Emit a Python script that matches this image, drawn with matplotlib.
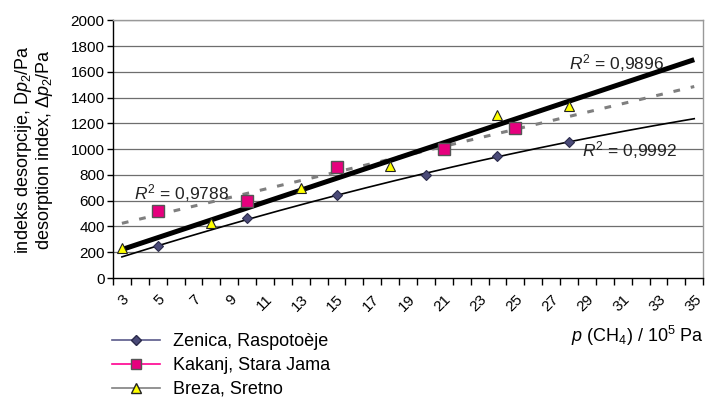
import numpy as np
import matplotlib
matplotlib.use("Agg")
import matplotlib.pyplot as plt
from matplotlib.lines import Line2D

plt.rcParams['font.family'] = ['Liberation Sans', 'DejaVu Sans']
plt.rcParams['mathtext.fontset'] = 'custom'
plt.rcParams['mathtext.rm'] = 'Liberation Sans'
plt.rcParams['mathtext.it'] = 'Liberation Sans:italic'
plt.rcParams['mathtext.bf'] = 'Liberation Sans:bold'

# Measured desorption index vs. methane pressure
zenica_p = [5, 10, 15, 20, 24, 28]
zenica_dp = [245, 463, 643, 801, 948, 1057]

kakanj_p = [5, 10, 15, 21, 25]
kakanj_dp = [519, 597, 863, 1005, 1163]

breza_p = [3, 8, 13, 18, 24, 28]
breza_dp = [235, 429, 695, 871, 1264, 1333]

x_tick_labels = [str(v) for v in range(3, 36, 2)]
y_ticks = list(range(0, 2001, 200))

fig = plt.figure(figsize=(7.06, 4.0), dpi=100)
ax = fig.add_axes([0.160, 0.305, 0.836, 0.644])

ax.set_xlim(2.5, 35.5)
ax.set_ylim(0, 2000)

# horizontal grid
for yv in y_ticks[1:]:
    ax.axhline(yv, color='#6e6e6e', lw=0.9, zorder=0)

# trend lines
xt = np.linspace(3, 35, 200)
cz = np.polyfit(zenica_p, zenica_dp, 2)
ck = np.polyfit(kakanj_p, kakanj_dp, 1)
cb = np.polyfit(breza_p, breza_dp, 1)
ax.plot(xt, np.polyval(ck, xt), color='#7f7f7f', lw=2.2, ls=(0, (2.2, 3.6)), zorder=2)
ax.plot(xt, np.polyval(cz, xt), color='black', lw=1.2, zorder=2)
ax.plot(xt, np.polyval(cb, xt), color='black', lw=3.6, zorder=2, solid_capstyle='butt')

# data markers
ax.plot(zenica_p, zenica_dp, ls='none', marker='D', ms=5.5, mfc='#4a4a78', mec='#2a2a4a', mew=0.8, zorder=4)
ax.plot(kakanj_p, kakanj_dp, ls='none', marker='s', ms=8, mfc='#e6007e', mec='#555555', mew=1.0, zorder=4)
ax.plot(breza_p, breza_dp, ls='none', marker='^', ms=7.5, mfc='#ffff00', mec='#222222', mew=0.8, zorder=4)

# R² annotations
ax.text(3.7, 659, r'$R^2$ = 0,9788', fontsize=12.5, color='#222222', ha='left', va='center')
ax.text(28.0, 1667, r'$R^2$ = 0,9896', fontsize=12.5, color='#222222', ha='left', va='center')
ax.text(28.7, 992, r'$R^2$ = 0,9992', fontsize=12.5, color='#222222', ha='left', va='center')

# axes styling
for side in ('top', 'right'):
    ax.spines[side].set_color('#999999')
    ax.spines[side].set_linewidth(1.0)
for side in ('left', 'bottom'):
    ax.spines[side].set_color('black')
    ax.spines[side].set_linewidth(1.0)

ax.set_yticks(y_ticks)
ax.tick_params(axis='y', direction='out', length=4, width=1, labelsize=11, pad=2)

ax.set_xticks(np.arange(2.5, 35.6, 1.0))
ax.set_xticklabels([])
ax.tick_params(axis='x', which='major', direction='out', length=5, width=1)
ax.set_xticks(list(range(3, 36, 2)), minor=True)
ax.set_xticklabels(x_tick_labels, minor=True, rotation=45, ha='right', va='top',
                   rotation_mode='anchor', fontsize=11)
ax.tick_params(axis='x', which='minor', length=0, pad=10)

ax.set_ylabel('indeks desorpcije, D$\\it{p}_2$/Pa\ndesorption index, $\\Delta\\it{p}_2$/Pa',
              fontsize=13, labelpad=11, linespacing=1.05)

fig.text(0.997, 0.16, r'$\it{p}$ (CH$_4$) / 10$^5$ Pa', fontsize=13, ha='right', va='center')

handles = [
    Line2D([], [], color='#5a5a8a', lw=1.2, marker='D', ms=5, mfc='#4a4a78', mec='#2a2a4a'),
    Line2D([], [], color='#ff0090', lw=1.2, marker='s', ms=7, mfc='#e6007e', mec='#555555'),
    Line2D([], [], color='#808080', lw=1.2, marker='^', ms=7, mfc='#ffff00', mec='#222222'),
]
labels = ['Zenica, Raspotoèje', 'Kakanj, Stara Jama', 'Breza, Sretno']
fig.legend(handles, labels, loc='upper left', bbox_to_anchor=(0.158, 0.167),
           frameon=False, fontsize=13, handlelength=2.7, handletextpad=0.7,
           labelspacing=0.38, borderaxespad=0, borderpad=0)

fig.savefig('out.png', dpi=100)
